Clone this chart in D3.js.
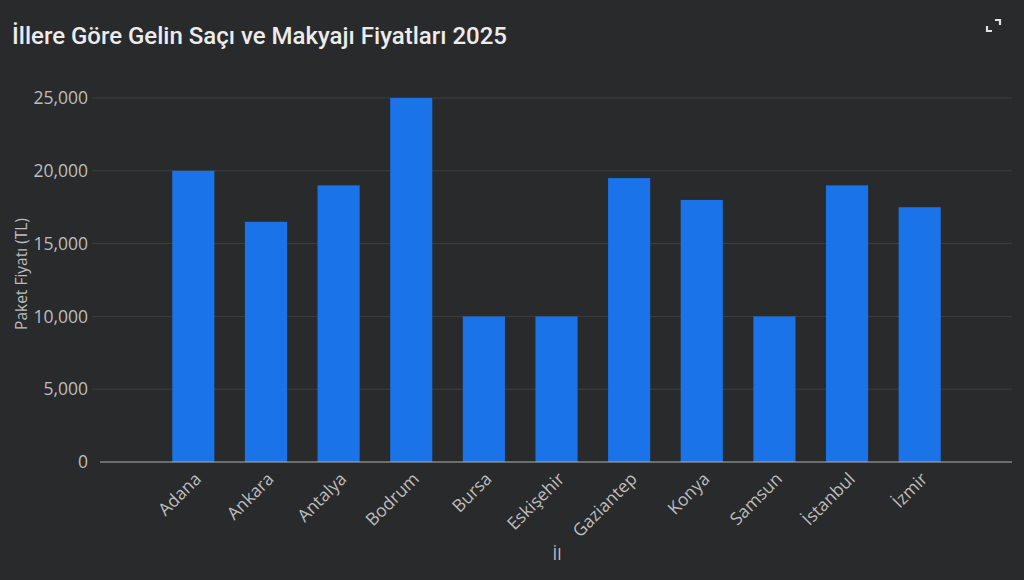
<!DOCTYPE html>
<html><head><meta charset="utf-8">
<script src="https://cdn.jsdelivr.net/npm/d3@7"></script>
<style>
html,body{margin:0;padding:0;background:#292a2b;}
svg{display:block;}
</style></head>
<body>
<svg id="chart" width="1024" height="580"></svg>
<script>
const categories = ["Adana","Ankara","Antalya","Bodrum","Bursa","Eskişehir","Gaziantep","Konya","Samsun","İstanbul","İzmir"];
const prices = [20000,16500,19000,25000,10000,10000,19500,18000,10000,19000,17500];
const yTicks = [0,5000,10000,15000,20000,25000];
const title = "İllere Göre Gelin Saçı ve Makyajı Fiyatları 2025";
const yTitle = "Paket Fiyatı (TL)";
const xTitle = "İl";

const svg = d3.select("#chart");
const W = 1024, H = 580;
svg.append("rect").attr("width",W).attr("height",H).attr("fill","#292a2b");

const font = "Roboto, 'Open Sans', sans-serif";
const font2 = "'Open Sans', Roboto, sans-serif";
const y = d3.scaleLinear().domain([0,25000]).range([462,98]);
const x = d3.scaleBand().domain(categories).range([157,956]).paddingInner(0.42).paddingOuter(0.21);

// title
svg.append("text").attr("x",12).attr("y",44).text(title)
  .attr("fill","#ececec").attr("font-family",font).attr("font-size",24).attr("font-weight",500);

// fullscreen icon
const ic = svg.append("g").attr("stroke","#e0e0e0").attr("stroke-width",2.2).attr("fill","none");
ic.append("path").attr("d","M995,20 L1000,20 L1000,25");
ic.append("path").attr("d","M987,26 L987,31 L992,31");

// grid
const grid = svg.append("g");
grid.selectAll("line").data(yTicks.filter(d=>d>0)).join("line")
  .attr("x1",92).attr("x2",1012).attr("y1",d=>y(d)).attr("y2",d=>y(d))
  .attr("stroke","#3d3f41").attr("stroke-width",1);

// y axis
const yAxis = svg.append("g").attr("transform","translate(92,0)")
  .call(d3.axisLeft(y).tickValues(yTicks).tickFormat(d3.format(",")).tickSize(0).tickPadding(4));
yAxis.select(".domain").remove();
yAxis.selectAll("text").attr("fill","#bdbdbd").attr("font-family",font2).attr("font-size",17.5);

// bars
svg.append("g").selectAll("rect").data(prices).join("rect")
  .attr("x",(d,i)=>x(categories[i])).attr("width",x.bandwidth())
  .attr("y",d=>y(d)).attr("height",d=>y(0)-y(d)).attr("fill","#1a73e8");

// baseline
svg.append("line").attr("x1",100).attr("x2",1012).attr("y1",462).attr("y2",462)
  .attr("stroke","#b0b0b0").attr("stroke-width",1.2);

// x axis labels
const xAxis = svg.append("g").attr("transform","translate(0,462)")
  .call(d3.axisBottom(x).tickSize(0).tickPadding(0));
xAxis.select(".domain").remove();
xAxis.selectAll(".tick text")
  .attr("fill","#bdbdbd").attr("font-family",font2).attr("font-size",17.5)
  .attr("text-anchor","end").attr("dy",0).attr("y",0)
  .attr("transform","translate(9,18) rotate(-45)");

// axis titles
svg.append("text").attr("transform","translate(27,274) rotate(-90)")
  .attr("text-anchor","middle").text(yTitle)
  .attr("fill","#bdbdbd").attr("font-family",font2).attr("font-size",15.5);
svg.append("text").attr("x",557).attr("y",560).attr("text-anchor","middle").text(xTitle)
  .attr("fill","#bdbdbd").attr("font-family",font2).attr("font-size",17);
</script>
</body></html>
